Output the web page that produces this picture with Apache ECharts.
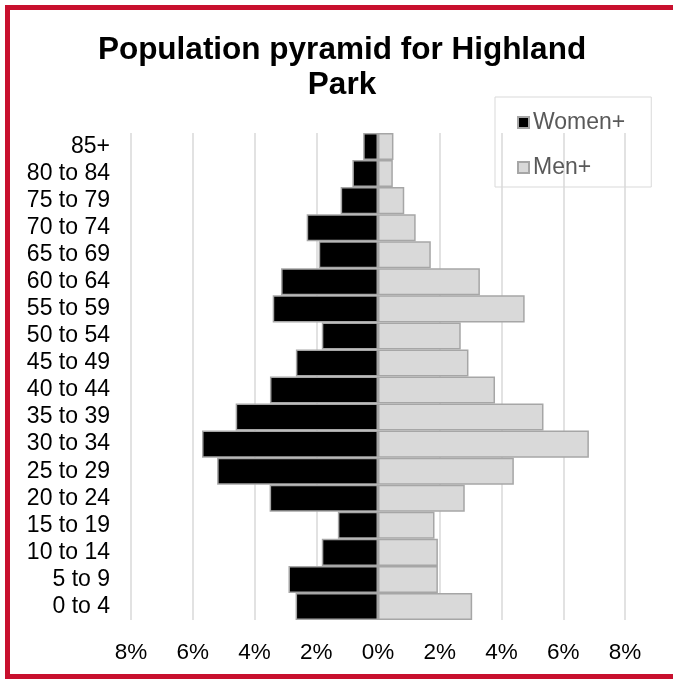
<!DOCTYPE html>
<html>
<head>
<meta charset="utf-8">
<title>Population pyramid for Highland Park</title>
<script src="https://cdn.jsdelivr.net/npm/echarts@6/dist/echarts.min.js"></script>
<style>
  html, body { margin: 0; padding: 0; background: #fff; }
  #main { width: 673px; height: 679px; }
</style>
</head>
<body>
<div id="main"></div>
<script>
// age groups, bottom to top
var ageGroups = ['0 to 4', '5 to 9', '10 to 14', '15 to 19', '20 to 24', '25 to 29',
    '30 to 34', '35 to 39', '40 to 44', '45 to 49', '50 to 54', '55 to 59',
    '60 to 64', '65 to 69', '70 to 74', '75 to 79', '80 to 84', '85+'];
// share of population, %
var women = [2.67, 2.90, 1.82, 1.30, 3.51, 5.21, 5.70, 4.61, 3.50, 2.66, 1.82, 3.41,
    3.14, 1.92, 2.31, 1.21, 0.83, 0.48];
var men = [3.05, 1.94, 1.94, 1.83, 2.81, 4.40, 6.83, 5.36, 3.79, 2.93, 2.68, 4.75,
    3.30, 1.71, 1.22, 0.85, 0.48, 0.50];
var xTicks = [-8, 8, 2]; // min, max, step

var font = "'Liberation Sans', Arial, sans-serif";
var myChart = echarts.init(document.getElementById('main'));

// women go to the left
var womenLeft = women.map(function (v) { return -v; });

var option = {
    backgroundColor: '#fff',
    textStyle: { fontFamily: font },
    title: {
        text: 'Population pyramid for Highland\nPark',
        left: 342,
        textAlign: 'center',
        top: 33,
        padding: 0,
        textStyle: {
            fontFamily: font,
            fontSize: 31.5,
            fontWeight: 'bold',
            color: '#000',
            lineHeight: 35
        }
    },
    legend: {
        orient: 'vertical',
        left: 495,
        top: 97,
        padding: [14, 26, 8, 22],
        itemGap: 22,
        itemWidth: 11,
        itemHeight: 11,
        icon: 'rect',
        borderColor: '#d9d9d9',
        borderWidth: 1,
        textStyle: { fontFamily: font, fontSize: 23, color: '#595959', padding: [0, 0, 0, -1] },
        data: ['Women+', 'Men+']
    },
    graphic: [{
        type: 'rect',
        z: 100,
        shape: { x: 7.5, y: 7.5, width: 690, height: 669 },
        style: { fill: 'none', stroke: '#c8102e', lineWidth: 5 }
    }],
    grid: {
        left: 131,
        right: 48,
        top: 133,
        bottom: 59
    },
    xAxis: {
        type: 'value',
        min: xTicks[0],
        max: xTicks[1],
        interval: xTicks[2],
        axisLine: { show: false },
        axisTick: { show: false },
        splitLine: { lineStyle: { color: '#d9d9d9', width: 1.5 } },
        axisLabel: {
            margin: 21,
            fontFamily: font,
            fontSize: 22.5,
            color: '#000',
            formatter: function (v) { return Math.abs(v) + '%'; }
        }
    },
    yAxis: {
        type: 'category',
        data: ageGroups,
        axisLine: { show: false },
        axisTick: { show: false },
        axisLabel: {
            interval: 0,
            margin: 21,
            fontFamily: font,
            fontSize: 23,
            color: '#000'
        }
    },
    series: [{
        name: 'Women+',
        type: 'bar',
        data: womenLeft,
        barGap: '-100%',
        barCategoryGap: '0%',
        itemStyle: { color: '#000', borderColor: '#a6a6a6', borderWidth: 1.5 }
    }, {
        name: 'Men+',
        type: 'bar',
        data: men,
        barCategoryGap: '0%',
        itemStyle: { color: '#d9d9d9', borderColor: '#a6a6a6', borderWidth: 1.5 }
    }]
};
myChart.setOption(option);
</script>
</body>
</html>
